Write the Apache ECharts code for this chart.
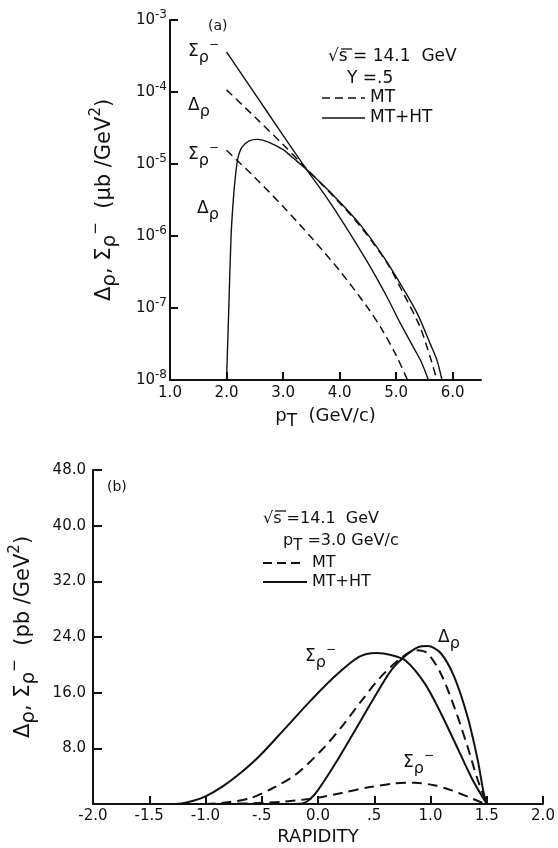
<!DOCTYPE html>
<html>
<head>
<meta charset="utf-8">
<script src="https://cdn.jsdelivr.net/npm/echarts@6/dist/echarts.min.js"></script>
<style>
  html, body { margin: 0; padding: 0; background: #fff; }
  #chart { width: 558px; height: 848px; }
</style>
</head>
<body>
<div id="chart"></div>
<script>
// ---- (a) cross sections vs p_T (sqrt(s) = 14.1 GeV, Y = .5), log scale ----
const ptSigmaHT = [2.0, 2.5, 3.0, 3.42, 3.75, 4.07, 4.48, 4.84, 5.07, 5.31, 5.45, 5.57];
const sigmaHT_a = [3.6e-4, 9.5e-5, 2.5e-5, 8.3e-6, 3.6e-6, 1.5e-6, 4.5e-7, 1.41e-7, 6.2e-8, 2.8e-8, 1.74e-8, 1.0e-8];

const ptDeltaMT = [2.0, 2.5, 3.0, 3.42, 3.9, 4.36, 4.84, 5.13, 5.42, 5.60, 5.72];
const deltaMT_a = [1.07e-4, 4.5e-5, 1.86e-5, 8.5e-6, 3.5e-6, 1.38e-6, 4.2e-7, 1.58e-7, 5.5e-8, 2.1e-8, 1.0e-8];

const ptDeltaHT = [2.0, 2.04, 2.08, 2.12, 2.16, 2.2, 2.27, 2.4, 2.55, 2.75, 3.0, 3.2, 3.42, 3.9, 4.36, 4.78, 5.07, 5.37, 5.60, 5.72, 5.81];
const deltaHT_a = [1.0e-8, 1.0e-7, 1.0e-6, 3.2e-6, 7.1e-6, 1.2e-5, 1.7e-5, 2.1e-5, 2.2e-5, 2.0e-5, 1.58e-5, 1.17e-5, 8.3e-6, 3.6e-6, 1.45e-6, 5.1e-7, 2.2e-7, 8.5e-8, 3.2e-8, 1.9e-8, 1.0e-8];

const ptSigmaMT = [2.0, 2.5, 3.0, 3.5, 4.0, 4.5, 4.75, 5.0, 5.2];
const sigmaMT_a = [1.55e-5, 6.5e-6, 2.57e-6, 9.5e-7, 3.3e-7, 1.0e-7, 5.0e-8, 2.2e-8, 1.0e-8];

const ptTicks = [1, 2, 3, 4, 5, 6];
const ptTickLabels = ['1.0', '2.0', '3.0', '4.0', '5.0', '6.0'];
const decadeExponents = ['-8', '-7', '-6', '-5', '-4', '-3'];

// ---- (b) cross sections vs rapidity (sqrt(s) = 14.1 GeV, p_T = 3.0 GeV/c) ----
const rapSigmaHT = [-1.3, -1.2, -1.1, -1.0, -0.85, -0.7, -0.52, -0.29, -0.08, 0.12, 0.36, 0.52, 0.65, 0.78, 0.95, 1.1, 1.25, 1.37, 1.5];
const sigmaHT_b = [0, 0.12, 0.5, 1.1, 2.5, 4.3, 6.9, 10.9, 14.6, 17.9, 21.1, 21.7, 21.4, 20.6, 17.3, 12.8, 7.7, 3.6, 0];

const rapDeltaMT = [-1.0, -0.8, -0.6, -0.4, -0.2, 0.035, 0.21, 0.39, 0.56, 0.74, 0.87, 0.97, 1.09, 1.21, 1.33, 1.42, 1.5];
const deltaMT_b = [0, 0.25, 0.85, 2.3, 4.2, 7.8, 11.1, 14.9, 18.3, 21.0, 22.1, 21.7, 18.8, 14.0, 8.2, 3.45, 0];

const rapDeltaHT = [-0.2, -0.13, -0.07, 0.0, 0.15, 0.33, 0.5, 0.65, 0.77, 0.885, 0.975, 1.09, 1.21, 1.33, 1.42, 1.47, 1.5];
const deltaHT_b = [0, 0.1, 0.7, 2.0, 5.7, 10.6, 15.3, 19.2, 21.2, 22.5, 22.7, 21.7, 18.3, 12.5, 6.3, 1.8, 0];

const rapSigmaMT = [-1.0, -0.6, -0.3, 0.0, 0.2, 0.45, 0.68, 0.86, 1.03, 1.18, 1.33, 1.45, 1.5];
const sigmaMT_b = [0, 0.1, 0.35, 0.9, 1.55, 2.4, 2.95, 3.05, 2.7, 2.0, 1.05, 0.25, 0];

const rapTicks = [-2, -1.5, -1, -0.5, 0, 0.5, 1, 1.5, 2];
const rapTickLabels = ['-2.0', '-1.5', '-1.0', '-.5', '0.0', '.5', '1.0', '1.5', '2.0'];
const yTicksB = [8, 16, 24, 32, 40, 48];
const yTickLabelsB = ['8.0', '16.0', '24.0', '32.0', '40.0', '48.0'];

// ---- drawing ----
const FONT = 'DejaVu Sans';
const INK = '#111';

function zip(xs, ys) { return xs.map((x, i) => [x, ys[i]]); }

function curve(name, xs, ys, axis, dashed, width, dash) {
  return {
    type: 'line', name, xAxisIndex: axis, yAxisIndex: axis,
    data: zip(xs, ys), symbol: 'none', smooth: 0.3,
    silent: true,
    lineStyle: { color: INK, width, type: dashed ? dash : 'solid' }
  };
}

// rich text pieces: m = main glyph, sub = lowered, sup = raised
function richSet(size) {
  return {
    m:   { fontFamily: FONT, fontSize: size, lineHeight: size + 10, color: INK, fill: INK },
    sub: { fontFamily: FONT, fontSize: size - 1, lineHeight: size - 2, verticalAlign: 'bottom', color: INK, fill: INK },
    sup: { fontFamily: FONT, fontSize: Math.round(size * 0.7), lineHeight: Math.round(size * 0.7), verticalAlign: 'top', color: INK, fill: INK }
  };
}

const SIGMA = '{m|Σ}{sub|ρ}{sup|−}';
const DELTA = '{m|Δ}{sub|ρ}';

function textItem(x, y, text, size, align) {
  return {
    type: 'text', x, y, silent: true,
    style: {
      text, rich: richSet(size), fontFamily: FONT, fontSize: size, fill: INK,
      align: align || 'left', verticalAlign: 'middle'
    }
  };
}
function rule(x1, y1, x2, y2, dash, w) {
  return {
    type: 'line', silent: true,
    shape: { x1, y1, x2, y2 },
    style: { stroke: INK, lineWidth: w || 1.5, lineDash: dash || null }
  };
}

const axisLineStyle = { show: true, onZero: false, lineStyle: { color: INK, width: 2 } };
const TICK_FONT = 15;

const option = {
  animation: false,
  backgroundColor: '#fff',
  grid: [
    { left: 170, top: 20, width: 311, height: 360 },
    { left: 89, top: 470, width: 454, height: 334 }
  ],
  xAxis: [
    {
      gridIndex: 0, type: 'value', min: 1, max: 6.5, interval: 1,
      axisLine: axisLineStyle,
      axisTick: { show: true, inside: true, length: 8, lineStyle: { color: INK, width: 2 }, customValues: ptTicks.slice(1) },
      axisLabel: {
        customValues: ptTicks, margin: 6, color: INK, fontFamily: FONT, fontSize: TICK_FONT,
        formatter: v => ptTickLabels[ptTicks.indexOf(v)]
      },
      splitLine: { show: false },
      name: '{m|p}{sub|T}{m|  (GeV/c)}', nameLocation: 'middle', nameGap: 22,
      nameTextStyle: { rich: richSet(18) }
    },
    {
      gridIndex: 1, type: 'value', min: -2, max: 2, interval: 0.5,
      axisLine: axisLineStyle,
      axisTick: { show: true, inside: true, length: 8, lineStyle: { color: INK, width: 2 }, customValues: rapTicks.slice(1) },
      axisLabel: {
        customValues: rapTicks, margin: 5, color: INK, fontFamily: FONT, fontSize: TICK_FONT,
        formatter: v => rapTickLabels[rapTicks.indexOf(v)]
      },
      splitLine: { show: false },
      name: 'RAPIDITY', nameLocation: 'middle', nameGap: 24,
      nameTextStyle: { color: INK, fontFamily: FONT, fontSize: 18 }
    }
  ],
  yAxis: [
    {
      gridIndex: 0, type: 'log', logBase: 10, min: 1e-8, max: 1e-3, splitNumber: 5,
      axisLine: axisLineStyle,
      axisTick: { show: true, inside: true, length: 8, lineStyle: { color: INK, width: 2 } },
      axisLabel: {
        margin: 3, color: INK, fontFamily: FONT,
        formatter: v => '{b|10}{s|' + decadeExponents[Math.round(Math.log10(v)) + 8] + '}',
        rich: {
          b: { fontFamily: FONT, fontSize: 15, lineHeight: 22, color: INK },
          s: { fontFamily: FONT, fontSize: 12, lineHeight: 12, verticalAlign: 'top', color: INK }
        }
      },
      splitLine: { show: false },
      name: DELTA + '{m|, }' + SIGMA + '{m|  (μb /GeV}{sup|2}{m|)}',
      nameLocation: 'middle', nameGap: 50, nameRotate: 90,
      nameTextStyle: { rich: richSet(21) }
    },
    {
      gridIndex: 1, type: 'value', min: 0, max: 48, interval: 8,
      axisLine: axisLineStyle,
      axisTick: { show: true, inside: true, length: 9, lineStyle: { color: INK, width: 2 }, customValues: yTicksB },
      axisLabel: {
        customValues: yTicksB, margin: 7, color: INK, fontFamily: FONT, fontSize: TICK_FONT,
        formatter: v => yTickLabelsB[yTicksB.indexOf(v)]
      },
      splitLine: { show: false },
      name: DELTA + '{m|, }' + SIGMA + '{m|  (pb /GeV}{sup|2}{m|)}',
      nameLocation: 'middle', nameGap: 54, nameRotate: 90,
      nameTextStyle: { rich: richSet(21) }
    }
  ],
  series: [
    curve('Σρ− MT+HT', ptSigmaHT, sigmaHT_a, 0, false, 1.4),
    curve('Δρ MT', ptDeltaMT, deltaMT_a, 0, true, 1.5, [8, 5]),
    curve('Δρ MT+HT', ptDeltaHT, deltaHT_a, 0, false, 1.4),
    curve('Σρ− MT', ptSigmaMT, sigmaMT_a, 0, true, 1.5, [8, 5]),
    curve('Σρ− MT+HT', rapSigmaHT, sigmaHT_b, 1, false, 2),
    curve('Δρ MT', rapDeltaMT, deltaMT_b, 1, true, 2, [10, 6]),
    curve('Δρ MT+HT', rapDeltaHT, deltaHT_b, 1, false, 2),
    curve('Σρ− MT', rapSigmaMT, sigmaMT_b, 1, true, 2, [10, 6])
  ],
  graphic: [
    // panel (a) annotations
    textItem(208, 26, '{m|(a)}', 14),
    textItem(188, 52, SIGMA, 17),
    textItem(188, 106, DELTA, 17),
    textItem(188, 155, SIGMA, 17),
    textItem(197, 209, DELTA, 17),
    textItem(328, 57, '{m|√s = 14.1  GeV}', 17),
    rule(341, 49, 352, 49, null, 1.3),
    textItem(347, 79, '{m|Y =.5}', 17),
    rule(322, 98, 365, 98, [8, 5], 1.5),
    textItem(370, 98, '{m|MT}', 17),
    rule(322, 118, 365, 118, null, 1.5),
    textItem(370, 118, '{m|MT+HT}', 17),
    // panel (b) annotations
    textItem(107, 487, '{m|(b)}', 14),
    textItem(305, 657, SIGMA, 17),
    textItem(438, 638, DELTA, 17),
    textItem(403, 763, SIGMA, 17),
    textItem(263, 519, '{m|√s =14.1  GeV}', 16),
    rule(275, 511, 286, 511, null, 1.3),
    textItem(283, 541, '{m|p}{sub|T}{m| =3.0 GeV/c}', 16),
    rule(263, 563, 300, 563, [9, 5], 2),
    textItem(312, 563, '{m|MT}', 16),
    rule(263, 582, 307, 582, null, 2),
    textItem(312, 582, '{m|MT+HT}', 16)
  ]
};

const chart = echarts.init(document.getElementById('chart'), null, { renderer: 'canvas' });
chart.setOption(option);
</script>
</body>
</html>
